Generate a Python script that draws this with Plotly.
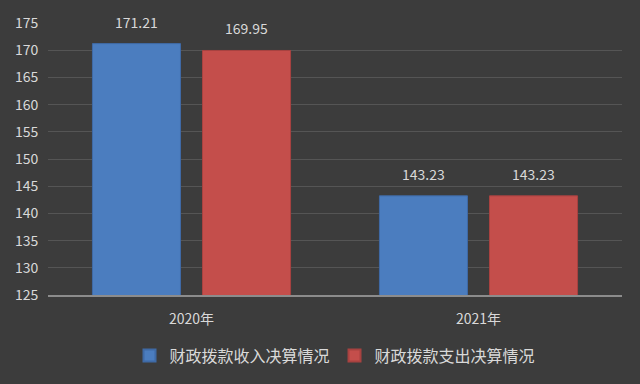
import plotly.graph_objects as go

categories = ["2020年", "2021年"]
income = [171.21, 143.23]
expense = [169.95, 143.23]
series_names = ["财政拨款收入决算情况", "财政拨款支出决算情况"]
tick_vals = [125, 130, 135, 140, 145, 150, 155, 160, 165, 170, 175]

font_family = "Noto Sans CJK SC, Noto Sans, sans-serif"
txt_color = "#d9d9d9"

fig = go.Figure()
fig.add_trace(go.Bar(
    x=categories, y=income, name=series_names[0],
    marker=dict(color="#4b7dbf", line=dict(color="#3f6aa6", width=1)),
))
fig.add_trace(go.Bar(
    x=categories, y=expense, name=series_names[1],
    marker=dict(color="#c44e4b", line=dict(color="#a84240", width=1)),
))

# value labels above each bar
for vals, shift in ((income, -55), (expense, 55)):
    for c, v in zip(categories, vals):
        fig.add_annotation(x=c, y=v, text=f"{v:.2f}", showarrow=False,
                           xshift=shift, yshift=10, yanchor="bottom",
                           font=dict(size=14, color=txt_color, family=font_family))

fig.update_layout(
    width=640, height=384,
    margin=dict(l=48, r=18, t=20, b=83),
    paper_bgcolor="#3c3c3c",
    plot_bgcolor="#3c3c3c",
    barmode="group",
    bargap=0.233,
    bargroupgap=0.2,
    font=dict(family=font_family, color=txt_color, size=13),
    showlegend=True,
    legend=dict(orientation="h", x=0.5, xanchor="center", y=-0.16, yanchor="top",
                font=dict(size=16, color=txt_color), itemsizing="constant",
                itemwidth=30, traceorder="normal"),
    xaxis=dict(showgrid=False, showline=True, linecolor="#8c8c8c", linewidth=2,
               tickfont=dict(size=14, color=txt_color), ticks="outside",
               ticklen=10, tickcolor="rgba(0,0,0,0)"),
    yaxis=dict(range=[125, 175], tickvals=tick_vals, showgrid=True,
               gridcolor="#555555", gridwidth=1, zeroline=False, showline=False,
               tickfont=dict(size=14, color=txt_color), ticks="outside",
               ticklen=6, tickcolor="rgba(0,0,0,0)"),
)

fig.write_html("out.html", config={"displayModeBar": False},
               post_script="document.body.style.margin='0';document.body.style.background='#3c3c3c';")
